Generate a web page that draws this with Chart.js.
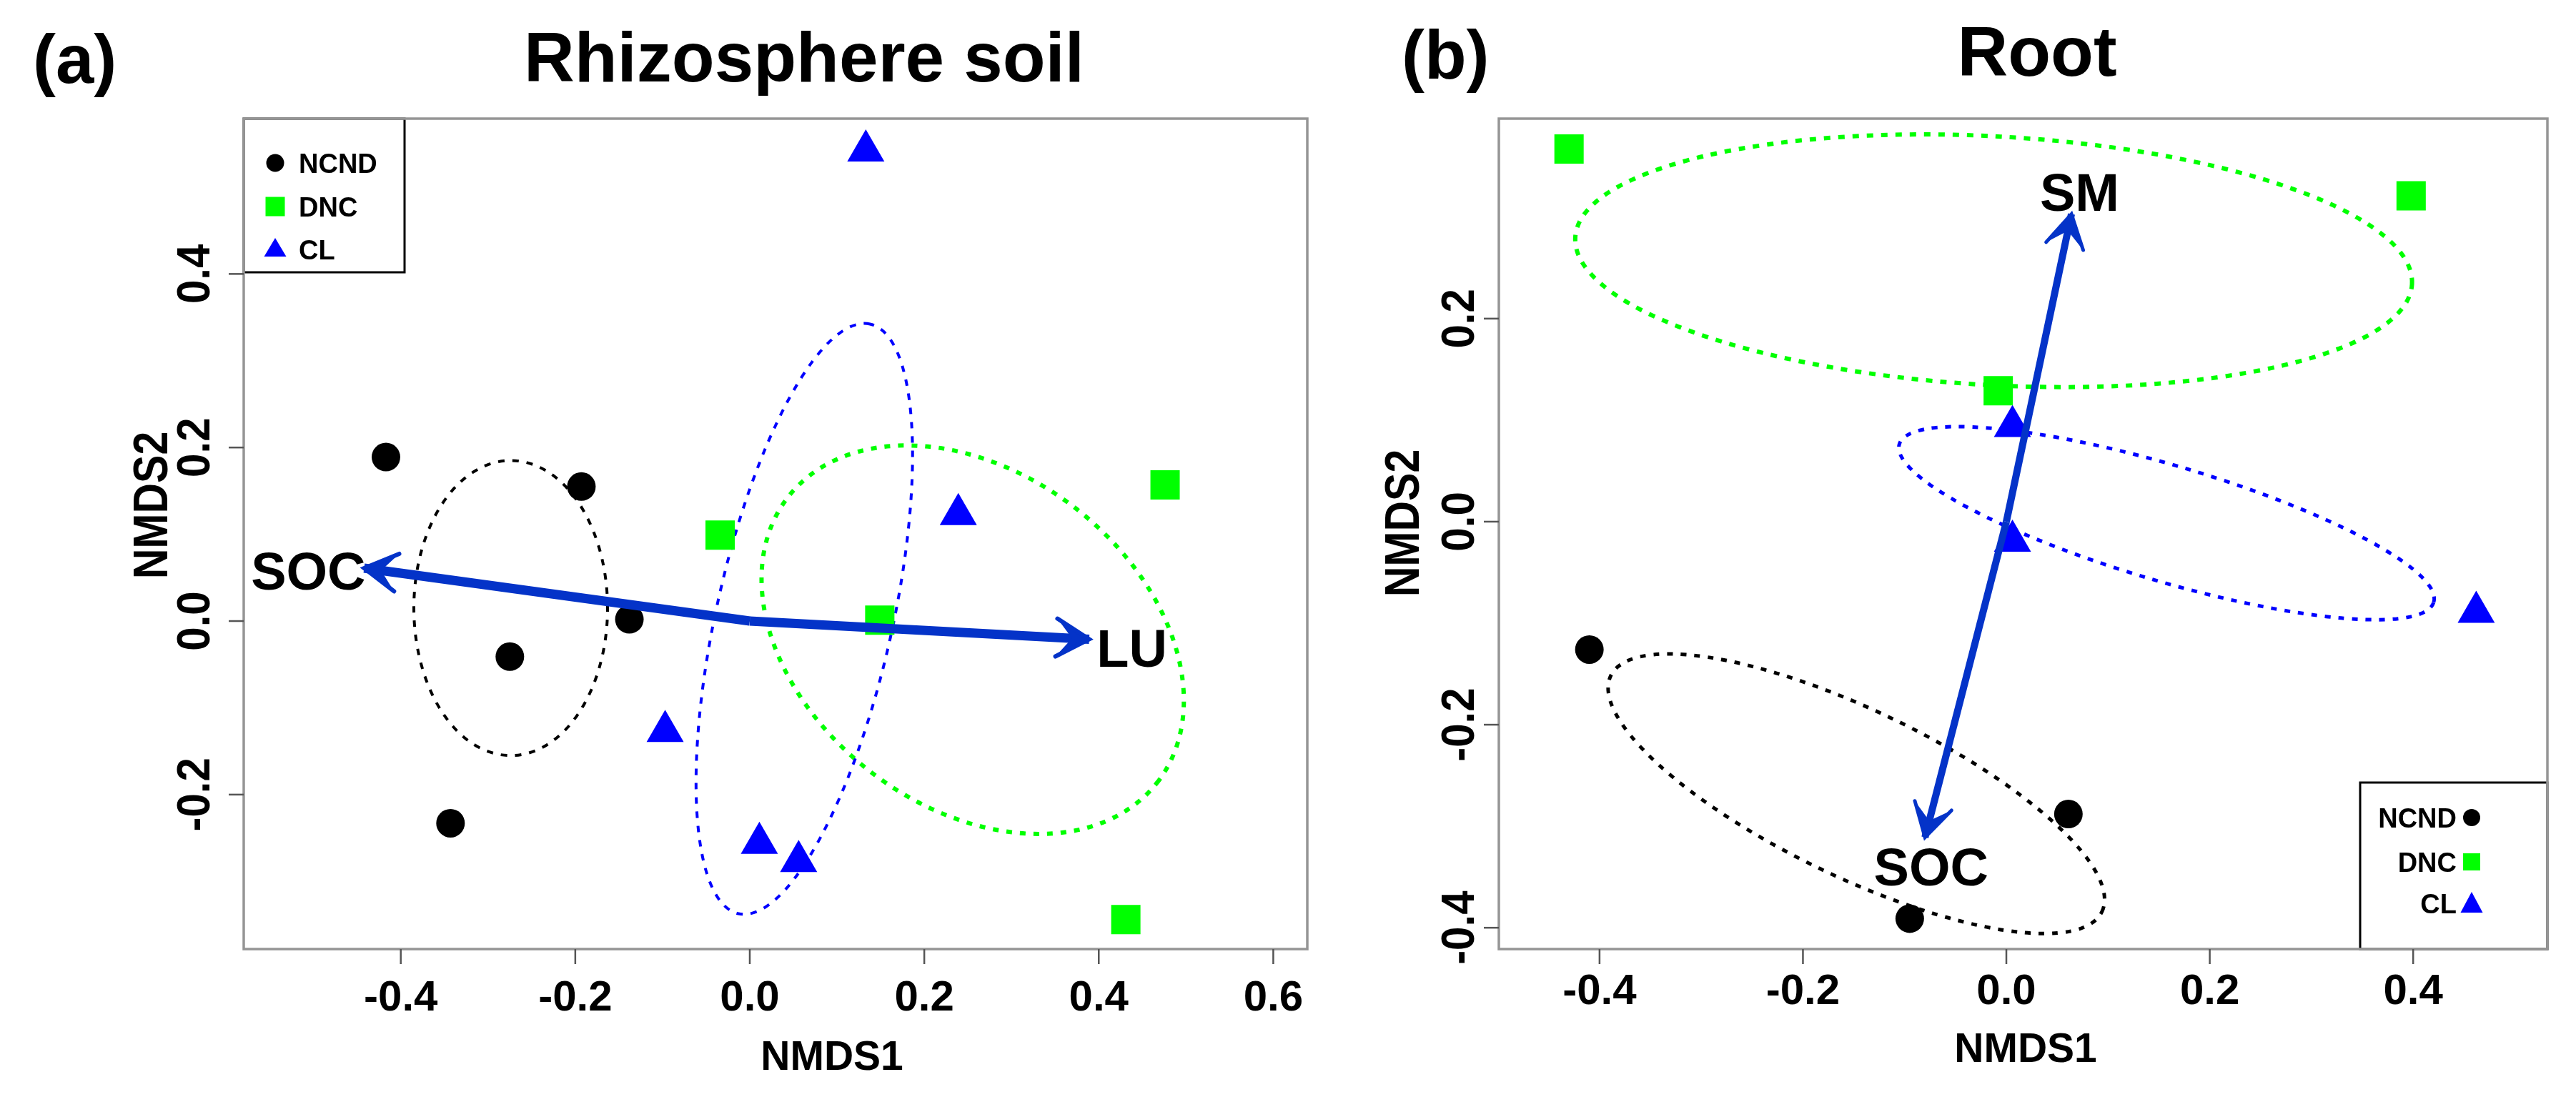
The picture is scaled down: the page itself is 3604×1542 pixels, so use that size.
<!DOCTYPE html>
<html lang="en">
<head>
<meta charset="UTF-8" />
<title>NMDS – Rhizosphere soil / Root</title>
<style>
  body { margin: 0; background: #fff; }
  #wrap { position: relative; width: 3604px; height: 1542px; background: #fff; }
  canvas { position: absolute; top: 0; }
  #chartA { left: 0; }
  #chartB { left: 1880px; }
</style>
</head>
<body>
<div id="wrap">
  <canvas id="chartA" width="1880" height="1542"></canvas>
  <canvas id="chartB" width="1724" height="1542"></canvas>
</div>
<script src="https://cdn.jsdelivr.net/npm/chart.js"></script>
<script>
// ---- data ----
const groups = ["NCND", "DNC", "CL"];

// (a) Rhizosphere soil
const soilXTicks = [-0.4, -0.2, 0.0, 0.2, 0.4, 0.6];
const soilYTicks = [-0.2, 0.0, 0.2, 0.4];
const soilXRange = [-0.580, 0.639];
const soilYRange = [-0.378, 0.579];
const soilNCND = [[-0.417, 0.189], [-0.193, 0.155], [-0.138, 0.002], [-0.275, -0.041], [-0.343, -0.233]];
const soilDNC = [[-0.034, 0.099], [0.149, 0.001], [0.476, 0.157], [0.431, -0.344]];
const soilCL = [[0.133, 0.542], [0.239, 0.123], [-0.097, -0.127], [0.011, -0.256], [0.056, -0.277]];
const soilVectors = [
  { name: "SOC", tip: [-0.442, 0.061], label: [-0.506, 0.058] },
  { name: "LU", tip: [0.389, -0.021], label: [0.438, -0.031] }
];
// centre, semi-axes, rotation (deg) of each group ellipse
const soilEllipses = [
  { group: "NCND", cx: -0.274, cy: 0.015, rx: 0.111, ry: 0.170, rot: 0 },
  { group: "CL", cx: 0.0625, cy: 0.0025, rx: 0.348, ry: 0.101, rot: 77.5 },
  { group: "DNC", cx: 0.2555, cy: -0.0215, rx: 0.268, ry: 0.192, rot: -38 }
];

// (b) Root
const rootXTicks = [-0.4, -0.2, 0.0, 0.2, 0.4];
const rootYTicks = [-0.4, -0.2, 0.0, 0.2];
const rootXRange = [-0.499, 0.532];
const rootYRange = [-0.421, 0.397];
const rootNCND = [[-0.410, -0.126], [0.061, -0.288], [-0.095, -0.391]];
const rootDNC = [[-0.430, 0.367], [0.398, 0.321], [-0.008, 0.129]];
const rootCL = [[0.006, 0.094], [0.006, -0.019], [0.462, -0.089]];
const rootVectors = [
  { name: "SM", tip: [0.064, 0.303], label: [0.072, 0.325] },
  { name: "SOC", tip: [-0.080, -0.311], label: [-0.074, -0.340] }
];
const rootEllipses = [
  { group: "DNC", cx: -0.0125, cy: 0.257, rx: 0.412, ry: 0.1225, rot: -3.2 },
  { group: "CL", cx: 0.1575, cy: -0.0015, rx: 0.274, ry: 0.057, rot: -16.5 },
  { group: "NCND", cx: -0.1475, cy: -0.268, rx: 0.268, ry: 0.082, rot: -25.7 }
];

// ---- styles ----
const FONT = '"Liberation Sans", Arial, Helvetica, sans-serif';
const groupStyle = {
  NCND: { color: "#000000", pointStyle: "circle", radius: 20 },
  DNC: { color: "#00ff00", pointStyle: "rect", radius: 29 },
  CL: { color: "#0000ff", pointStyle: "triangle", radius: 30 }
};
const arrowColor = "#0433c8";

function toXY(arr) {
  return arr.map(p => ({ x: p[0], y: p[1] }));
}

function fmt(v) {
  return (Math.abs(v) < 1e-9 ? 0 : v).toFixed(1);
}

function capText(ctx, txt, x, y, size, align) {
  ctx.font = "bold " + size + "px " + FONT;
  ctx.textAlign = align || "center";
  ctx.textBaseline = "alphabetic";
  ctx.fillText(txt, x, y + size * 0.358);
}

function rotText(ctx, txt, x, y, size, stretch) {
  ctx.save();
  ctx.translate(x, y);
  ctx.rotate(-Math.PI / 2);
  ctx.scale(1, stretch);
  ctx.font = "bold " + size + "px " + FONT;
  ctx.textAlign = "center";
  ctx.textBaseline = "alphabetic";
  ctx.fillText(txt, 0, size * 0.358);
  ctx.restore();
}

function symbol(ctx, kind, x, y, s) {
  ctx.fillStyle = groupStyle[kind].color;
  ctx.beginPath();
  if (kind === "NCND") {
    ctx.arc(x, y, s.r, 0, Math.PI * 2);
  } else if (kind === "DNC") {
    ctx.rect(x - s.sq / 2, y - s.sq / 2, s.sq, s.sq);
  } else {
    ctx.moveTo(x, y - s.up);
    ctx.lineTo(x + s.half, y + s.down);
    ctx.lineTo(x - s.half, y + s.down);
    ctx.closePath();
  }
  ctx.fill();
}

function makeDecor(p) {
  return {
    id: "decor" + p.letter,
    beforeDatasetsDraw(chart) {
      const { ctx, scales: { x, y } } = chart;
      const kx = x.getPixelForValue(1) - x.getPixelForValue(0);
      const ky = y.getPixelForValue(0) - y.getPixelForValue(1);
      p.ellipses.forEach(e => {
        const st = p.ellipseStyle[e.group];
        ctx.save();
        ctx.beginPath();
        ctx.save();
        ctx.translate(x.getPixelForValue(e.cx), y.getPixelForValue(e.cy));
        ctx.scale(kx, -ky);
        ctx.rotate(e.rot * Math.PI / 180);
        ctx.ellipse(0, 0, e.rx, e.ry, 0, 0, Math.PI * 2);
        ctx.restore();
        ctx.strokeStyle = groupStyle[e.group].color;
        ctx.lineWidth = st.width;
        ctx.setLineDash(st.dash);
        ctx.lineCap = "butt";
        ctx.stroke();
        ctx.restore();
      });
    },
    afterDatasetsDraw(chart) {
      const { ctx, scales: { x, y } } = chart;
      // arrow heads: concave filled wedge plus barbs
      chart.data.datasets.forEach((ds, i) => {
        if (!ds.isArrow) return;
        const pts = chart.getDatasetMeta(i).data;
        const a = pts[0], b = pts[pts.length - 1];
        const ang = Math.atan2(b.y - a.y, b.x - a.x);
        const L = 53, h = Math.PI / 6, back = 24;
        const b1 = [b.x - L * Math.cos(ang - h), b.y - L * Math.sin(ang - h)];
        const b2 = [b.x - L * Math.cos(ang + h), b.y - L * Math.sin(ang + h)];
        const inner = [b.x - back * Math.cos(ang), b.y - back * Math.sin(ang)];
        ctx.save();
        ctx.fillStyle = arrowColor;
        ctx.strokeStyle = arrowColor;
        ctx.beginPath();
        ctx.moveTo(b.x, b.y);
        ctx.lineTo(b1[0], b1[1]);
        ctx.lineTo(inner[0], inner[1]);
        ctx.lineTo(b2[0], b2[1]);
        ctx.closePath();
        ctx.fill();
        ctx.lineWidth = p.headWidth;
        ctx.lineJoin = "miter";
        ctx.lineCap = "round";
        ctx.beginPath();
        ctx.moveTo(b1[0], b1[1]);
        ctx.lineTo(b.x, b.y);
        ctx.lineTo(b2[0], b2[1]);
        ctx.stroke();
        ctx.restore();
      });
      // vector labels
      ctx.save();
      ctx.fillStyle = "#000";
      p.vectors.forEach(v => {
        capText(ctx, v.name, x.getPixelForValue(v.label[0]), y.getPixelForValue(v.label[1]), 74);
      });
      ctx.restore();
    },
    afterDraw(chart) {
      const { ctx, chartArea: ca, scales: { x, y } } = chart;
      ctx.save();
      // legend
      const lg = p.legend;
      ctx.strokeStyle = "#000";
      ctx.lineWidth = 3;
      ctx.strokeRect(lg.box[0], lg.box[1], lg.box[2] - lg.box[0], lg.box[3] - lg.box[1]);
      groups.forEach((g, i) => {
        symbol(ctx, g, lg.symX, lg.rows[i], lg.sym);
        ctx.fillStyle = "#000";
        capText(ctx, g, lg.textX, lg.rows[i], 38, lg.align);
      });
      // plot box
      ctx.strokeStyle = "#959595";
      ctx.lineWidth = 3.5;
      ctx.strokeRect(ca.left, ca.top, ca.right - ca.left, ca.bottom - ca.top);
      // ticks
      ctx.strokeStyle = "#555";
      ctx.lineWidth = 2.5;
      ctx.fillStyle = "#000";
      p.xTicks.forEach(v => {
        const px = x.getPixelForValue(v);
        ctx.beginPath();
        ctx.moveTo(px, ca.bottom);
        ctx.lineTo(px, ca.bottom + 21);
        ctx.stroke();
        capText(ctx, fmt(v), px, p.xTickY, 60);
      });
      p.yTicks.forEach(v => {
        const py = y.getPixelForValue(v);
        ctx.beginPath();
        ctx.moveTo(ca.left - 21, py);
        ctx.lineTo(ca.left, py);
        ctx.stroke();
        rotText(ctx, fmt(v), p.yTickX, py, 60, 1.08);
      });
      // axis titles
      capText(ctx, "NMDS1", p.xTitle[0], p.xTitle[1], 57);
      rotText(ctx, "NMDS2", p.yTitle[0], p.yTitle[1], 59, 1.15);
      // panel titles
      ctx.font = "bold 98px " + FONT;
      ctx.textAlign = "center";
      ctx.textBaseline = "alphabetic";
      ctx.fillText(p.title, p.titlePos[0], p.titlePos[1]);
      ctx.font = "bold 96px " + FONT;
      ctx.textAlign = "left";
      ctx.fillText("(" + p.letter + ")", p.letterPos[0], p.letterPos[1]);
      ctx.restore();
    }
  };
}

function buildChart(canvasId, cfg) {
  const pointSets = [cfg.ncnd, cfg.dnc, cfg.cl].map((arr, i) => {
    const st = groupStyle[groups[i]];
    return {
      label: groups[i],
      data: toXY(arr),
      pointStyle: st.pointStyle,
      pointRadius: st.radius,
      backgroundColor: st.color,
      borderColor: st.color,
      borderWidth: 0,
      order: 1,
      clip: false
    };
  });
  const arrowSets = cfg.vectors.map(v => ({
    label: v.name,
    isArrow: true,
    data: [{ x: 0, y: 0 }, { x: v.tip[0], y: v.tip[1] }],
    showLine: true,
    borderColor: arrowColor,
    borderWidth: cfg.decor.shaftWidth,
    pointRadius: 0,
    order: 0,
    clip: false
  }));
  return new Chart(document.getElementById(canvasId), {
    type: "scatter",
    data: { datasets: pointSets.concat(arrowSets) },
    options: {
      responsive: false,
      animation: false,
      events: [],
      layout: { padding: cfg.padding },
      plugins: { legend: { display: false }, tooltip: { enabled: false } },
      scales: {
        x: { type: "linear", display: false, min: cfg.xRange[0], max: cfg.xRange[1] },
        y: { type: "linear", display: false, min: cfg.yRange[0], max: cfg.yRange[1] }
      }
    },
    plugins: [makeDecor(cfg.decor)]
  });
}

buildChart("chartA", {
  ncnd: soilNCND, dnc: soilDNC, cl: soilCL,
  vectors: soilVectors,
  xRange: soilXRange, yRange: soilYRange,
  padding: { left: 341, right: 51, top: 166, bottom: 214 },
  decor: {
    letter: "a", title: "Rhizosphere soil",
    titlePos: [1125, 114], letterPos: [46, 116],
    xTicks: soilXTicks, yTicks: soilYTicks,
    xTickY: 1393, yTickX: 270,
    xTitle: [1164, 1477], yTitle: [210, 707],
    ellipses: soilEllipses,
    ellipseStyle: {
      NCND: { width: 4, dash: [9, 11] },
      CL: { width: 4, dash: [9, 11] },
      DNC: { width: 6, dash: [8, 11] }
    },
    vectors: soilVectors,
    shaftWidth: 13, headWidth: 6,
    legend: {
      box: [341, 166, 566, 381],
      symX: 385, textX: 418, align: "left",
      rows: [228, 289, 349],
      sym: { r: 12.5, sq: 27, half: 15.5, up: 16, down: 10 }
    }
  }
});

buildChart("chartB", {
  ncnd: rootNCND, dnc: rootDNC, cl: rootCL,
  vectors: rootVectors,
  xRange: rootXRange, yRange: rootYRange,
  padding: { left: 217, right: 40, top: 166, bottom: 214 },
  decor: {
    letter: "b", title: "Root",
    titlePos: [970, 106], letterPos: [81, 110],
    xTicks: rootXTicks, yTicks: rootYTicks,
    xTickY: 1384, yTickX: 159,
    xTitle: [954, 1466], yTitle: [81, 732],
    ellipses: rootEllipses,
    ellipseStyle: {
      NCND: { width: 5, dash: [8, 11] },
      CL: { width: 5, dash: [8, 11] },
      DNC: { width: 6, dash: [9, 11] }
    },
    vectors: rootVectors,
    shaftWidth: 10, headWidth: 5,
    legend: {
      box: [1422, 1095, 1684, 1328],
      symX: 1578, textX: 1557, align: "right",
      rows: [1144, 1206, 1264],
      sym: { r: 12, sq: 24, half: 15.5, up: 16, down: 13 }
    }
  }
});
</script>
</body>
</html>
